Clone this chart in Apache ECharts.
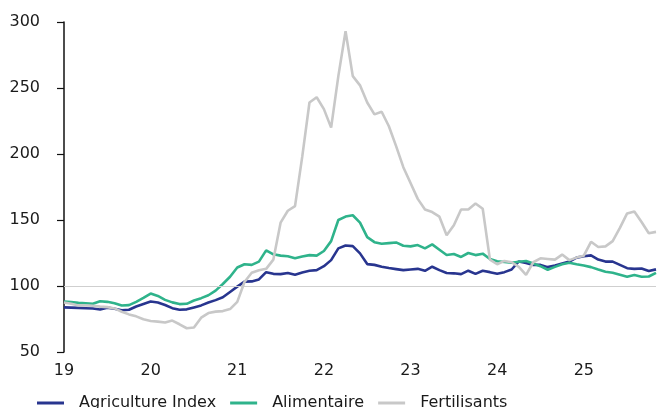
<!DOCTYPE html>
<html>
<head>
<meta charset="utf-8">
<script src="https://cdn.jsdelivr.net/npm/echarts@6/dist/echarts.min.js"></script>
<style>
html,body{margin:0;padding:0;background:#fff;}
#chart{width:660px;height:408px;}
</style>
</head>
<body>
<div id="chart"></div>
<script>
// Monthly, Jan 2019 .. Nov 2025
var months = [];
for (var y = 2019; y <= 2025; y++) {
  for (var m = 1; m <= 12; m++) {
    if (y === 2025 && m > 11) break;
    months.push(y + '-' + (m < 10 ? '0' + m : m));
  }
}
var tickLabels = ['19', '20', '21', '22', '23', '24', '25'];
var seriesNames = ['Agriculture Index', 'Alimentaire', 'Fertilisants'];

var agriculture = [
  83.8, 83.6, 83.4, 83.2, 83.0, 82.2, 83.6, 82.8, 81.6, 82.0, 84.5, 86.4,
  88.2, 87.5, 85.6, 83.2, 82.0, 82.3, 83.8, 85.3, 87.5, 89.3, 91.5, 95.5,
  99.5, 103.3, 103.5, 105.0, 110.5, 109.2, 109.0, 109.8, 108.6, 110.3, 111.5, 112.0,
  115.0, 119.6, 128.5, 130.7, 130.2, 124.7, 116.6, 116.0, 114.6, 113.6, 112.8, 112.0,
  112.5, 113.0, 111.5, 114.6, 112.0, 109.8, 109.6, 109.0, 111.6, 109.2, 111.5, 110.5,
  109.2, 110.5, 112.5, 118.6, 117.5, 116.0, 116.0, 114.3, 115.5, 117.0, 118.5, 121.5,
  122.5, 123.2, 120.0, 118.5, 118.5, 116.0, 113.5, 113.0, 113.3, 111.3, 112.6
];
var alimentaire = [
  88.2, 87.8, 87.2, 86.9, 86.5, 88.5, 88.0, 87.0, 85.2, 85.5, 88.0, 91.0,
  94.3, 92.5, 89.5, 87.6, 86.3, 86.5, 89.0, 90.8, 93.0, 96.5, 101.5, 107.0,
  114.0, 116.5, 116.0, 118.5, 127.0, 124.0, 123.0, 122.5, 121.0, 122.3, 123.4, 123.0,
  126.5, 134.0, 150.0, 152.6, 153.6, 148.0, 137.0, 133.2, 132.0, 132.5, 133.0, 130.5,
  130.0, 131.0, 128.5, 131.5, 127.5, 123.5, 124.2, 122.0, 125.0, 123.4, 124.5, 120.5,
  118.8, 118.2, 117.6, 118.4, 119.0, 117.0, 115.0, 112.3, 114.5, 116.5, 117.6, 116.5,
  115.5, 114.3, 112.5, 110.8, 110.0, 108.5, 107.0, 108.3, 107.0, 107.2, 110.0
];
var fertilisants = [
  87.5, 86.5, 85.3, 85.2, 85.0, 84.4, 84.0, 83.0, 80.5, 78.5, 77.0, 74.8,
  73.5, 73.0, 72.3, 73.8, 71.0, 68.0, 68.5, 76.0, 79.5, 80.6, 81.0, 82.5,
  88.0, 103.0, 110.0, 112.0, 113.0, 120.0, 148.0, 157.0, 160.5, 198.0, 239.0, 243.0,
  234.0, 220.0, 259.0, 293.0, 259.0, 252.0, 239.0, 230.0, 232.0, 221.0, 206.0, 190.0,
  178.0, 166.0, 158.0, 156.0, 152.5, 138.5, 146.0, 158.0, 158.0, 162.5, 158.5, 120.0,
  116.5, 119.0, 118.0, 114.5, 108.5, 118.0, 121.0, 120.5, 120.0, 123.8, 119.6, 121.5,
  123.0, 133.5, 129.5, 130.0, 134.0, 144.0, 155.0, 156.5, 148.5, 140.0, 141.0
];

var NAVY = '#28358f', NAVY_LATE = '#1d3460', GREEN = '#2fb38b', GREY = '#c8c8c8';
var FONT = 'DejaVu Sans';

var chart = echarts.init(document.getElementById('chart'), null, {renderer: 'canvas'});
chart.setOption({
  animation: false,
  backgroundColor: '#ffffff',
  grid: {left: 64, right: 4, top: 22, bottom: 56},
  legend: {
    left: 37, top: 395, itemWidth: 27, itemHeight: 3, icon: 'rect', itemGap: 14,
    padding: 0,
    data: seriesNames,
    textStyle: {fontFamily: FONT, fontSize: 16, color: '#1a1a1a', lineHeight: 16, padding: [0, 0, 0, 10]}
  },
  visualMap: {
    show: false, type: 'piecewise', seriesIndex: 0, dimension: 0,
    pieces: [
      {gte: 0, lte: 53.5, color: NAVY},
      {gt: 53.5, lte: 100, color: NAVY_LATE}
    ]
  },
  xAxis: {
    type: 'category', data: months, boundaryGap: false,
    axisLine: {show: false}, axisTick: {show: false}, splitLine: {show: false},
    axisLabel: {
      interval: function (i) { return i % 12 === 0; },
      formatter: function (v, i) { return tickLabels[Math.round(i / 12)]; },
      fontFamily: FONT, fontSize: 16, color: '#1a1a1a', margin: 11
    }
  },
  yAxis: {
    type: 'value', min: 50, max: 300, interval: 50,
    axisLine: {show: true, lineStyle: {color: '#111', width: 1.5}},
    axisTick: {show: true, length: 7, lineStyle: {color: '#111', width: 1.2}},
    splitLine: {show: false},
    axisLabel: {fontFamily: FONT, fontSize: 16, color: '#1a1a1a', margin: 24}
  },
  series: [
    {
      name: seriesNames[0], type: 'line', data: agriculture, showSymbol: false, symbol: 'none',
      itemStyle: {color: NAVY}, lineStyle: {color: NAVY, width: 2.6}, z: 3
    },
    {
      name: seriesNames[1], type: 'line', data: alimentaire, showSymbol: false, symbol: 'none',
      itemStyle: {color: GREEN}, lineStyle: {color: GREEN, width: 2.6}, z: 4
    },
    {
      name: seriesNames[2], type: 'line', data: fertilisants, showSymbol: false, symbol: 'none',
      itemStyle: {color: GREY}, lineStyle: {color: GREY, width: 2.6}, z: 5,
      markLine: {
        silent: true, symbol: ['none', 'none'], label: {show: false},
        lineStyle: {color: '#cfcfcf', width: 1, type: 'solid'},
        data: [{yAxis: 100}]
      }
    }
  ]
});
</script>
</body>
</html>
